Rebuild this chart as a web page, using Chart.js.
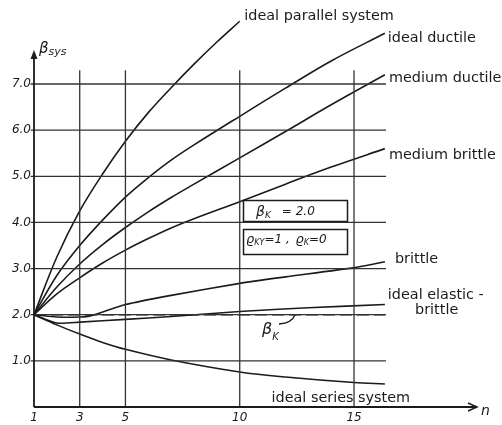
<!DOCTYPE html>
<html>
<head>
<meta charset="utf-8">
<script src="https://cdn.jsdelivr.net/npm/chart.js@4"></script>
<style>
  html, body { margin: 0; padding: 0; background: #fff; }
  #wrap { width: 502px; height: 425px; position: relative; }
</style>
</head>
<body>
<div id="wrap"><canvas id="chart"></canvas></div>
<script>
// values (n = number of elements, beta = reliability index)
const curveN = [1, 2, 3, 4, 5, 6, 7, 8, 10, 12, 14, 16.35];
const ductileBeta = [2.0, 2.85, 3.5, 4.05, 4.55, 4.97, 5.35, 5.68, 6.3, 6.91, 7.5, 8.1];
const mediumDuctileBeta = [2.0, 2.6, 3.1, 3.52, 3.89, 4.23, 4.54, 4.83, 5.4, 5.97, 6.55, 7.2];
const mediumBrittleBeta = [2.0, 2.45, 2.8, 3.12, 3.4, 3.65, 3.88, 4.08, 4.45, 4.83, 5.2, 5.6];

const parallelN = [1, 2, 3, 4, 5, 6, 7, 8, 9, 10];
const parallelBeta = [2.0, 3.25, 4.25, 5.05, 5.76, 6.38, 6.92, 7.43, 7.91, 8.36];

const brittleN = [1, 2, 3, 3.5, 5, 7, 10, 12, 15, 16.35];
const brittleBeta = [2.0, 1.95, 1.95, 1.98, 2.22, 2.42, 2.68, 2.82, 3.02, 3.15];

const elasticN = [1, 2, 3, 5, 7, 10, 13, 16.35];
const elasticBeta = [2.0, 1.82, 1.84, 1.9, 1.96, 2.07, 2.15, 2.22];

const seriesN = [1, 2, 3, 4, 5, 7, 10, 12, 15, 16.35];
const seriesBeta = [2.0, 1.78, 1.58, 1.4, 1.25, 1.02, 0.76, 0.65, 0.53, 0.5];

const betaKN = [1, 16.35];
const betaKValue = [2.0, 2.0];

const xTicks = [1, 3, 5, 10, 15];
const yTicks = [1, 2, 3, 4, 5, 6, 7];
const hGridSpan = [0.85, 16.4];
const vGridSpan = [0, 7.3];

const INK = '#1b1b1b';
const GRID = '#333';
const FONT = '"DejaVu Sans", sans-serif';

function pts(xs, ys) {
  return xs.map((x, i) => ({ x, y: ys[i] }));
}

function curve(data, extra = {}) {
  return {
    data,
    borderColor: INK,
    borderWidth: 1.6,
    pointRadius: 0,
    tension: 0.35,
    clip: false,
    ...extra,
  };
}

const gridSets = [
  ...yTicks.map((v) => curve(pts(hGridSpan, [v, v]), { borderColor: GRID, borderWidth: 1.3, tension: 0 })),
  ...xTicks.filter((v) => v > 1).map((v) => curve(pts([v, v], vGridSpan), { borderColor: GRID, borderWidth: 1.3, tension: 0 })),
];

const datasets = [
  ...gridSets,
  curve(pts(betaKN, betaKValue), { borderDash: [12, 5], borderWidth: 1.5, tension: 0 }),
  curve(pts(parallelN, parallelBeta)),
  curve(pts(curveN, ductileBeta)),
  curve(pts(curveN, mediumDuctileBeta)),
  curve(pts(curveN, mediumBrittleBeta)),
  curve(pts(brittleN, brittleBeta), { tension: 0.2 }),
  curve(pts(elasticN, elasticBeta), { tension: 0.2 }),
  curve(pts(seriesN, seriesBeta)),
];

// curve labels, anchored in data units (left aligned, vertically centred)
const labels = [
  { text: 'ideal parallel system', n: 10.2, b: 8.47 },
  { text: 'ideal ductile', n: 16.48, b: 7.99 },
  { text: 'medium ductile', n: 16.53, b: 7.13 },
  { text: 'medium brittle', n: 16.53, b: 5.46 },
  { text: 'brittle', n: 16.79, b: 3.2 },
  { text: 'ideal elastic -', n: 16.48, b: 2.42 },
  { text: 'brittle', n: 17.67, b: 2.1 },
  { text: 'ideal series system', n: 11.39, b: 0.19 },
];

function subText(ctx, main, sub, x, y, mainFont, subFont, dy) {
  ctx.font = mainFont;
  ctx.fillText(main, x, y);
  const w = ctx.measureText(main).width;
  ctx.font = subFont;
  ctx.fillText(sub, x + w, y + dy);
  return x + w + ctx.measureText(sub).width;
}

const decorations = {
  id: 'decorations',
  afterDraw(chart) {
    const { ctx, scales: { x, y }, chartArea } = chart;
    const x0 = x.getPixelForValue(1);
    const y0 = y.getPixelForValue(0);
    ctx.save();
    ctx.strokeStyle = INK;
    ctx.fillStyle = INK;
    ctx.lineWidth = 1.8;

    // axes with arrows
    const yTip = 50;
    const xTip = chartArea.right;
    ctx.beginPath();
    ctx.moveTo(x0, y0);
    ctx.lineTo(x0, yTip + 4);
    ctx.moveTo(x0, y0);
    ctx.lineTo(xTip, y0);
    ctx.stroke();
    ctx.beginPath();
    ctx.moveTo(x0, yTip);
    ctx.lineTo(x0 - 3.5, yTip + 9);
    ctx.lineTo(x0 + 3.5, yTip + 9);
    ctx.closePath();
    ctx.fill();
    ctx.lineWidth = 1.4;
    ctx.beginPath();
    ctx.moveTo(xTip - 9, y0 - 4);
    ctx.lineTo(xTip, y0);
    ctx.lineTo(xTip - 9, y0 + 4);
    ctx.stroke();

    // parameter boxes
    ctx.lineWidth = 1.5;
    ctx.strokeRect(243.5, 200.5, 104, 21);
    ctx.strokeRect(243.5, 229.5, 104, 25);

    ctx.textBaseline = 'middle';
    ctx.textAlign = 'left';
    let cx = subText(ctx, 'β', 'K', 256, 212, `italic 14px ${FONT}`, `italic 9px ${FONT}`, 4);
    ctx.font = `italic 12px ${FONT}`;
    ctx.fillText('= 2.0', cx + 11, 212);
    cx = subText(ctx, 'ϱ', 'KY', 246, 240, `italic 13px ${FONT}`, `italic 8px ${FONT}`, 3);
    ctx.font = `italic 12px ${FONT}`;
    ctx.fillText('=1 ,', cx, 240);
    cx = subText(ctx, 'ϱ', 'K', cx + ctx.measureText('=1 , ').width + 2, 240, `italic 13px ${FONT}`, `italic 8px ${FONT}`, 3);
    ctx.font = `italic 12px ${FONT}`;
    ctx.fillText('=0', cx, 240);

    // beta_K marker with leader to the dashed line
    subText(ctx, 'β', 'K', 262, 330, `italic 16px ${FONT}`, `italic 10px ${FONT}`, 7);
    ctx.lineWidth = 1.3;
    ctx.beginPath();
    ctx.moveTo(279, 324);
    ctx.quadraticCurveTo(292, 323, 295, y.getPixelForValue(2.0));
    ctx.stroke();

    // axis titles
    subText(ctx, 'β', 'sys', 39, 49, `italic 15px ${FONT}`, `italic 11px ${FONT}`, 3);
    ctx.font = `italic 14px ${FONT}`;
    ctx.fillText('n', xTip + 4, y0 + 4);

    // curve labels
    ctx.font = `14.4px ${FONT}`;
    labels.forEach((l) => {
      ctx.fillText(l.text, x.getPixelForValue(l.n), y.getPixelForValue(l.b));
    });
    ctx.restore();
  },
};

new Chart(document.querySelector('#chart'), {
  type: 'line',
  data: { datasets },
  options: {
    responsive: true,
    maintainAspectRatio: false,
    animation: false,
    events: [],
    layout: { padding: { left: 0, right: 25, top: 9, bottom: 0 } },
    plugins: { legend: { display: false }, tooltip: { enabled: false } },
    scales: {
      x: {
        type: 'linear',
        min: 1,
        max: 20.38,
        afterFit: (scale) => { scale.height = 18; },
        afterBuildTicks: (scale) => { scale.ticks = xTicks.map((value) => ({ value })); },
        grid: { display: false, drawTicks: false },
        border: { display: false },
        ticks: {
          autoSkip: false,
          maxRotation: 0,
          padding: 4,
          color: INK,
          font: { family: FONT, size: 12, style: 'italic' },
          callback: (value) => String(value),
        },
      },
      y: {
        type: 'linear',
        min: 0,
        max: 8.6,
        afterFit: (scale) => { scale.width = 34; },
        afterBuildTicks: (scale) => { scale.ticks = yTicks.map((value) => ({ value })); },
        grid: { display: false, drawTicks: false },
        border: { display: false },
        ticks: {
          autoSkip: false,
          padding: 3,
          color: INK,
          font: { family: FONT, size: 12, style: 'italic' },
          callback: (value) => Number(value).toFixed(1),
        },
      },
    },
  },
  plugins: [decorations],
});
</script>
</body>
</html>
